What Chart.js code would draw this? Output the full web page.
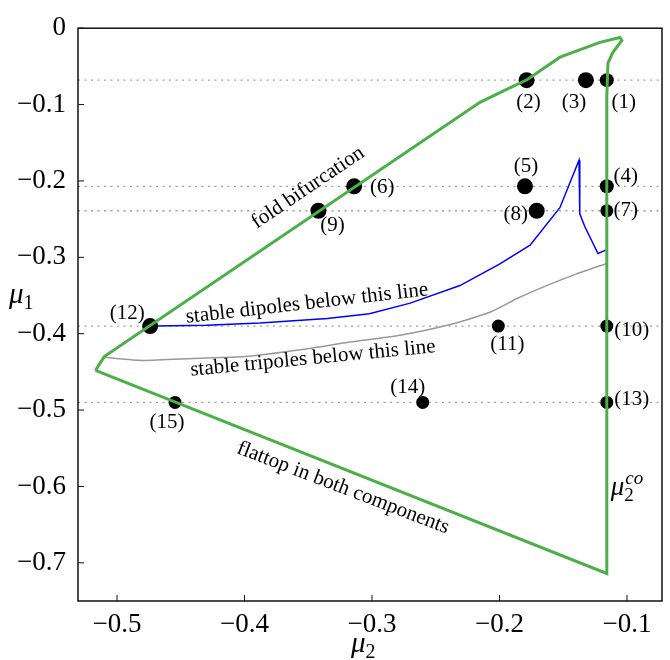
<!DOCTYPE html>
<html>
<head>
<meta charset="utf-8">
<script src="https://cdn.jsdelivr.net/npm/chart.js@4.4.1/dist/chart.umd.min.js"></script>
<style>
  body { margin: 0; background: #fff; }
  canvas { display: block; }
</style>
</head>
<body>
<canvas id="phaseChart" width="670" height="660"></canvas>
<script>
// axis ranges and ticks
const xRange = [-0.5306, -0.0725];
const yRange = [-0.75, 0];
const xTicks = [-0.5, -0.4, -0.3, -0.2, -0.1];
const yTicks = [0, -0.1, -0.2, -0.3, -0.4, -0.5, -0.6, -0.7];

// dotted mu1 levels
const levels = [-0.068, -0.207, -0.239, -0.39, -0.49];

// existence region boundary (fold line, tip, mu2^co line, flattop line)
const boundaryX = [-0.5169, -0.510, -0.2153, -0.1960, -0.1784, -0.1525, -0.1212, -0.1055, -0.104, -0.111, -0.1149, -0.1158, -0.1158, -0.5169];
const boundaryY = [-0.448, -0.430, -0.097, -0.0815, -0.0675, -0.0379, -0.0186, -0.0122, -0.016, -0.0315, -0.0456, -0.0893, -0.714, -0.448];

// stable dipoles below this line
const dipoleX = [-0.4686, -0.43, -0.388, -0.335, -0.302, -0.27, -0.231, -0.2, -0.176, -0.1526, -0.1376, -0.137, -0.133, -0.1227, -0.1158];
const dipoleY = [-0.39, -0.389, -0.386, -0.380, -0.374, -0.360, -0.337, -0.309, -0.284, -0.235, -0.173, -0.243, -0.260, -0.295, -0.29];

// stable tripoles below this line
const tripoleX = [-0.510, -0.4796, -0.4404, -0.40, -0.356, -0.317, -0.278, -0.241, -0.2075, -0.185, -0.163, -0.14, -0.1158];
const tripoleY = [-0.431, -0.435, -0.4325, -0.430, -0.421, -0.411, -0.402, -0.389, -0.372, -0.353, -0.337, -0.322, -0.308];

// sample points (1)..(15)
const dotX = [-0.1158, -0.1787, -0.1322, -0.1158, -0.180, -0.314, -0.1158, -0.1708, -0.342, -0.1158, -0.2009, -0.474, -0.1158, -0.2602, -0.4545];
const dotY = [-0.068, -0.068, -0.068, -0.207, -0.207, -0.207, -0.239, -0.239, -0.239, -0.39, -0.39, -0.39, -0.49, -0.49, -0.49];
const dotRadius = [7, 8, 8, 7, 8, 8, 6.5, 8, 8, 6.5, 6.5, 8, 6.5, 6.5, 6.5];
// label offset from its dot, px
const labelOffset = [[17, 22], [2, 22], [-12, 22], [19, -10], [1, -20], [28, 1], [19, 0], [-21, 4],
  [14, 15], [25, 4], [9, 18], [-23, -13], [25, -3], [-15, -15], [-8, 20]];

const regionLabels = [
  { text: 'fold bifurcation', x: -0.3502, y: -0.2089, angle: -34 },
  { text: 'stable dipoles below this line', x: -0.351, y: -0.3605, angle: -6.5 },
  { text: 'stable tripoles below this line', x: -0.3463, y: -0.4325, angle: -5.5 },
  { text: 'flattop in both components', x: -0.3227, y: -0.602, angle: 21 }
];

const serif = '"Liberation Serif", "DejaVu Serif", serif';
const green = 'rgb(77,175,74)';

const toPts = (xs, ys) => xs.map((v, i) => ({ x: v, y: ys[i] }));
const fmt = v => (v === 0 ? '0' : '\u2212' + Math.abs(v).toFixed(1));

// mu with subscript (and optional superscript)
function drawMu(ctx, x, base, size, sub, sup) {
  ctx.font = 'italic ' + size + 'px ' + serif;
  ctx.textAlign = 'left';
  ctx.textBaseline = 'alphabetic';
  ctx.fillText('\u03bc', x, base);
  const w = ctx.measureText('\u03bc').width;
  const s = Math.round(size * 0.7);
  ctx.font = s + 'px ' + serif;
  ctx.fillText(sub, x + w, base + size * 0.22);
  if (sup) {
    ctx.font = 'italic ' + s + 'px ' + serif;
    ctx.fillText(sup, x + w + 1, base - size * 0.42);
  }
}

const overlay = {
  id: 'overlay',
  afterDatasetsDraw(chart) {
    const { ctx, scales: { x, y } } = chart;
    ctx.save();
    ctx.fillStyle = '#000';
    ctx.textAlign = 'center';
    ctx.textBaseline = 'middle';
    ctx.font = '21px ' + serif;
    dotX.forEach((v, i) => {
      ctx.fillText('(' + (i + 1) + ')',
        x.getPixelForValue(v) + labelOffset[i][0],
        y.getPixelForValue(dotY[i]) + labelOffset[i][1]);
    });
    ctx.font = '21px ' + serif;
    regionLabels.forEach(r => {
      ctx.save();
      ctx.translate(x.getPixelForValue(r.x), y.getPixelForValue(r.y));
      ctx.rotate(r.angle * Math.PI / 180);
      ctx.fillText(r.text, 0, 0);
      ctx.restore();
    });
    drawMu(ctx, x.getPixelForValue(-0.1158) + 4, y.getPixelForValue(-0.611), 27, '2', 'co');
    ctx.restore();
  },
  afterDraw(chart) {
    const { ctx, chartArea: a, scales: { x, y } } = chart;
    ctx.save();
    ctx.strokeStyle = '#111';
    ctx.lineWidth = 1.5;
    ctx.strokeRect(a.left, a.top, a.right - a.left, a.bottom - a.top);
    ctx.beginPath();
    xTicks.forEach(v => {
      const px = x.getPixelForValue(v);
      ctx.moveTo(px, a.bottom);
      ctx.lineTo(px, a.bottom - 6);
    });
    yTicks.forEach(v => {
      const py = y.getPixelForValue(v);
      ctx.moveTo(a.left, py);
      ctx.lineTo(a.left + 6, py);
    });
    ctx.lineWidth = 1;
    ctx.stroke();
    ctx.fillStyle = '#000';
    drawMu(ctx, 351, 652, 29, '2');
    drawMu(ctx, 9, 303, 29, '1');
    ctx.restore();
  }
};

const datasets = levels.map(lv => ({
  data: [{ x: xRange[0], y: lv }, { x: xRange[1], y: lv }],
  showLine: true, borderColor: '#a0a0a0', borderWidth: 1.3, borderDash: [2, 4.5],
  pointRadius: 0, order: 5
}));
datasets.push({
  data: toPts(tripoleX, tripoleY), showLine: true, borderColor: '#999',
  borderWidth: 1.5, pointRadius: 0, tension: 0.2, order: 4
});
datasets.push({
  data: toPts(dipoleX, dipoleY), showLine: true, borderColor: '#0000ff',
  borderWidth: 1.5, pointRadius: 0, order: 3
});
datasets.push({
  data: toPts(dotX, dotY), showLine: false, backgroundColor: '#000', borderWidth: 0,
  pointRadius: dotRadius, order: 2
});
datasets.push({
  data: toPts(boundaryX, boundaryY), showLine: true, borderColor: green,
  borderWidth: 3, pointRadius: 0, order: 1
});

new Chart(document.getElementById('phaseChart'), {
  type: 'scatter',
  data: { datasets },
  options: {
    responsive: false,
    animation: false,
    layout: { padding: { top: 17, right: 8, left: 0, bottom: 0 } },
    plugins: { legend: { display: false }, tooltip: { enabled: false } },
    scales: {
      x: {
        type: 'linear', min: xRange[0], max: xRange[1],
        grid: { display: false, drawTicks: false }, border: { display: false },
        afterBuildTicks: s => { s.ticks = xTicks.map(v => ({ value: v })); },
        afterFit: s => { s.height = 59; },
        ticks: { callback: fmt, color: '#000', padding: 8, maxRotation: 0, autoSkip: false,
          font: { family: serif, size: 27 } }
      },
      y: {
        type: 'linear', min: yRange[0], max: yRange[1],
        grid: { display: false, drawTicks: false }, border: { display: false },
        afterBuildTicks: s => { s.ticks = yTicks.map(v => ({ value: v })); },
        afterFit: s => { s.width = 78; },
        ticks: { callback: fmt, color: '#000', padding: 12, autoSkip: false,
          font: { family: serif, size: 27 } }
      }
    }
  },
  plugins: [overlay]
});
</script>
</body>
</html>
